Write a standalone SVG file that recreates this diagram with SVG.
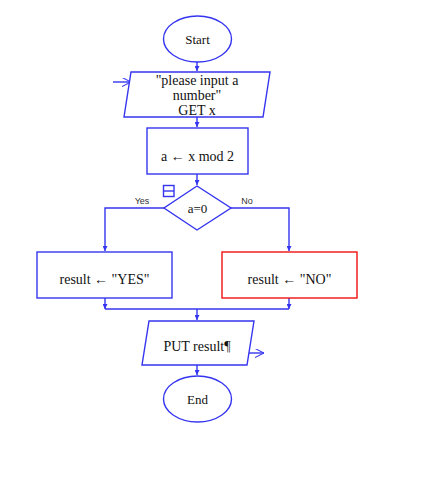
<svg xmlns="http://www.w3.org/2000/svg" width="437" height="503" viewBox="0 0 437 503">
<defs>
<marker id="ah" viewBox="0 0 8 8" refX="8" refY="4" markerWidth="5" markerHeight="5" orient="auto" markerUnits="userSpaceOnUse">
<path d="M0,0 L8,4 L0,8 Z" fill="#3535f0"/>
</marker>
<marker id="open" viewBox="0 0 10 10" refX="10" refY="5" markerWidth="9" markerHeight="9" orient="auto" markerUnits="userSpaceOnUse">
<path d="M0,0 L10,5 L0,10" fill="none" stroke="#3535f0" stroke-width="1.2"/>
</marker>
<style>
.s{fill:#fff;stroke:#3535f0;stroke-width:1.4}
.r{fill:#fff;stroke:#ee1111;stroke-width:1.4}
.c{fill:none;stroke:#3535f0;stroke-width:1.4}
.t{font-family:"Liberation Serif",serif;font-size:14px;fill:#111;text-anchor:middle}
.l{font-family:"Liberation Sans",sans-serif;font-size:9px;fill:#333;text-anchor:middle}
</style>
</defs>
<rect width="437" height="503" fill="#fff"/>
<g id="connectors">
<path class="c" d="M197,62 V71" marker-end="url(#ah)"/>
<path class="c" d="M113,82 H131" marker-end="url(#open)"/>
<path class="c" d="M197,117 V127" marker-end="url(#ah)"/>
<path class="c" d="M197,174 V185" marker-end="url(#ah)"/>
<path class="c" d="M164,208 H105 V251" marker-end="url(#ah)"/>
<path class="c" d="M231,208 H289 V251" marker-end="url(#ah)"/>
<path class="c" d="M105,298 V309" marker-end="url(#ah)"/>
<path class="c" d="M289,298 V309" marker-end="url(#ah)"/>
<path class="c" d="M105,309 H289"/>
<path class="c" d="M197,309 V320" marker-end="url(#ah)"/>
<path class="c" d="M247,353 H264" marker-end="url(#open)"/>
<path class="c" d="M197,365 V375" marker-end="url(#ah)"/>
<text class="l" x="142" y="204">Yes</text>
<text class="l" x="247" y="204">No</text>
</g>
<g id="start">
<ellipse class="s" cx="197.5" cy="39" rx="34" ry="23"/>
<text class="t" x="197.5" y="44" style="font-size:13px">Start</text>
</g>
<g id="input">
<polygon class="s" points="131,72 270,72 263,117 124,117"/>
<text class="t" x="197" y="85">"please input a</text>
<text class="t" x="197" y="100">number"</text>
<text class="t" x="197" y="115">GET x</text>
</g>
<g id="assign">
<rect class="s" x="147" y="128" width="101" height="46"/>
<text class="t" x="197.5" y="161">a ← x mod 2</text>
</g>
<g id="decision">
<polygon class="s" points="197,186 231,208 197,230 164,208"/>
<text class="t" x="197.5" y="213" style="font-size:13px">a=0</text>
<rect x="163.5" y="185.5" width="10.5" height="11" fill="none" stroke="#3535f0" stroke-width="1.4"/>
<line x1="163.5" y1="191" x2="174" y2="191" stroke="#3535f0" stroke-width="1.4"/>
</g>
<g id="yes">
<rect class="s" x="37" y="252" width="135" height="46"/>
<text class="t" x="104.5" y="284">result ← "YES"</text>
</g>
<g id="no">
<rect class="r" x="222" y="252" width="135" height="46"/>
<text class="t" x="289.5" y="284">result ← "NO"</text>
</g>
<g id="output">
<polygon class="s" points="149,321 254,321 247,365 142,365"/>
<text class="t" x="197" y="351">PUT result¶</text>
</g>
<g id="end">
<ellipse class="s" cx="197.5" cy="399" rx="34" ry="23"/>
<text class="t" x="197.5" y="404" style="font-size:13px">End</text>
</g>
</svg>
